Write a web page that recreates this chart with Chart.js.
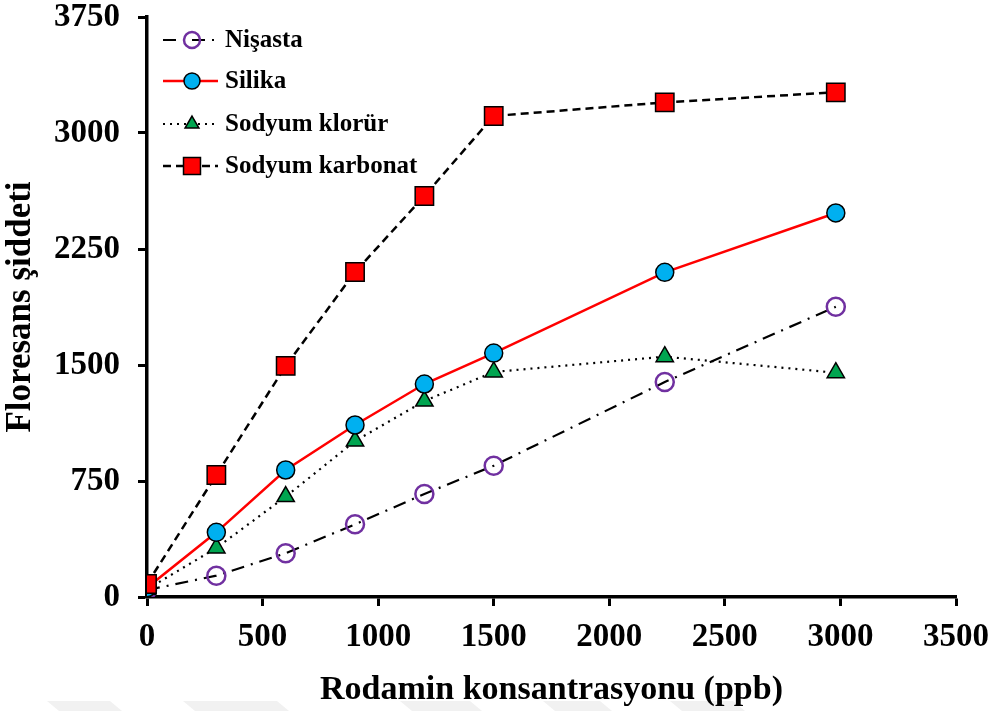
<!DOCTYPE html>
<html>
<head>
<meta charset="utf-8">
<script src="https://cdn.jsdelivr.net/npm/chart.js@4.4.1/dist/chart.umd.min.js"></script>
<style>
    html, body { margin: 0; padding: 0; background: #fff; }
    #wrap { width: 998px; height: 711px; position: relative; }
</style>
</head>
<body>
<div id="wrap"><canvas id="chart"></canvas></div>
<script>
// Rhodamine concentration (ppb) and fluorescence intensity per carrier
const concentrations = [0, 300, 600, 900, 1200, 1500, 2240, 2980];
const nisasta = [45, 138, 283, 470, 666, 849, 1390, 1877];
const silika = [60, 418, 821, 1112, 1377, 1577, 2099, 2483];
const sodyumKlorur = [50, 317, 649, 1008, 1267, 1455, 1554, 1450];
const sodyumKarbonat = [84, 789, 1494, 2101, 2593, 3110, 3198, 3263];

const yTicks = [0, 750, 1500, 2250, 3000, 3750];
const xTicks = [0, 500, 1000, 1500, 2000, 2500, 3000, 3500];

const FONT = '"Liberation Serif", "Times New Roman", serif';

function toPoints(values) {
    return values.map((v, i) => ({ x: concentrations[i], y: v }));
}

const datasets = [
    {
        label: 'Nişasta',
        data: toPoints(nisasta),
        borderColor: '#000',
        borderWidth: 2.2,
        borderDash: [13, 7, 2, 7],
        pointStyle: 'circle',
        pointRadius: 9,
        pointBackgroundColor: 'rgba(255,255,255,0)',
        pointBorderColor: '#7030a0',
        pointBorderWidth: 2.5,
        order: 3
    },
    {
        label: 'Silika',
        data: toPoints(silika),
        borderColor: '#ff0000',
        borderWidth: 2.5,
        pointStyle: 'circle',
        pointRadius: 9,
        pointBackgroundColor: '#00b0f0',
        pointBorderColor: '#000',
        pointBorderWidth: 1.5,
        order: 1
    },
    {
        label: 'Sodyum klorür',
        data: toPoints(sodyumKlorur),
        borderColor: '#000',
        borderWidth: 2.2,
        borderDash: [2, 5],
        pointStyle: 'triangle',
        pointRadius: 10,
        pointBackgroundColor: '#00a550',
        pointBorderColor: '#000',
        pointBorderWidth: 1.5,
        order: 2
    },
    {
        label: 'Sodyum karbonat',
        data: toPoints(sodyumKarbonat),
        borderColor: '#000',
        borderWidth: 2.5,
        borderDash: [8, 5],
        pointStyle: 'rect',
        pointRadius: 13,
        pointBackgroundColor: '#ff0000',
        pointBorderColor: '#000',
        pointBorderWidth: 1.5,
        order: 0
    }
];

// faint shapes along the bottom edge
const backdrop = {
    id: 'backdrop',
    beforeDraw(chart) {
        const ctx = chart.ctx;
        ctx.save();
        ctx.fillStyle = '#f1f1f1';
        const spans = [[47, 110], [183, 277], [400, 470], [543, 600], [670, 733]];
        for (const [a, b] of spans) {
            ctx.beginPath();
            ctx.moveTo(a, 701);
            ctx.lineTo(b, 701);
            ctx.lineTo(b + 12, 711);
            ctx.lineTo(a + 12, 711);
            ctx.closePath();
            ctx.fill();
        }
        ctx.restore();
    }
};

// legend: line sample with marker, then label
const lineLegend = {
    id: 'lineLegend',
    afterDraw(chart) {
        const ctx = chart.ctx;
        const rows = [40, 81, 124, 166];
        ctx.save();
        chart.data.datasets.forEach((ds, i) => {
            const y = rows[i];
            ctx.save();
            ctx.strokeStyle = ds.borderColor;
            ctx.lineWidth = ds.borderWidth;
            ctx.setLineDash(ds.borderDash || []);
            ctx.beginPath();
            ctx.moveTo(163, y);
            ctx.lineTo(218, y);
            ctx.stroke();
            ctx.restore();
            ctx.save();
            ctx.fillStyle = ds.pointBackgroundColor;
            ctx.strokeStyle = ds.pointBorderColor;
            ctx.lineWidth = ds.pointBorderWidth;
            Chart.helpers.drawPoint(ctx, {
                pointStyle: ds.pointStyle,
                radius: ds.pointStyle === 'rect' ? 12 : 8,
                borderWidth: ds.pointBorderWidth,
                rotation: 0
            }, 192, y);
            ctx.restore();
            ctx.fillStyle = '#000';
            ctx.font = 'bold 25px ' + FONT;
            ctx.textBaseline = 'middle';
            ctx.fillText(ds.label, 225, y + 1);
        });
        ctx.restore();
    }
};

// keep tick labels from pushing the plot area in
function noLabelPadding(scale) {
    scale.paddingTop = 0;
    scale.paddingBottom = 0;
    scale.paddingLeft = 0;
    scale.paddingRight = 0;
}

new Chart(document.getElementById('chart'), {
    type: 'line',
    data: { datasets },
    options: {
        responsive: true,
        maintainAspectRatio: false,
        animation: false,
        layout: { padding: { left: 0, top: 17, right: 42, bottom: 0 } },
        plugins: {
            legend: { display: false },
            tooltip: { enabled: false }
        },
        scales: {
            x: {
                type: 'linear',
                min: 0,
                max: 3500,
                afterBuildTicks: (scale) => { scale.ticks = xTicks.map(v => ({ value: v })); },
                afterFit: (scale) => { scale.height = 114; noLabelPadding(scale); },
                border: { color: '#000', width: 3.5 },
                grid: { drawOnChartArea: false, color: '#000', tickLength: 9, tickWidth: 3 },
                ticks: {
                    color: '#000',
                    padding: 12,
                    font: { family: FONT, size: 33, weight: 'bold' },
                    maxRotation: 0,
                    callback: (v) => String(v)
                },
                title: {
                    display: true,
                    text: 'Rodamin konsantrasyonu (ppb)',
                    color: '#000',
                    font: { family: FONT, size: 34, weight: 'bold' },
                    padding: { top: 0, bottom: 0 }
                }
            },
            y: {
                type: 'linear',
                min: 0,
                max: 3750,
                afterBuildTicks: (scale) => { scale.ticks = yTicks.map(v => ({ value: v })); },
                afterFit: (scale) => { scale.width = 147; noLabelPadding(scale); },
                border: { color: '#000', width: 3.5 },
                grid: { drawOnChartArea: false, color: '#000', tickLength: 9, tickWidth: 3 },
                ticks: {
                    color: '#000',
                    padding: 18,
                    font: { family: FONT, size: 33, weight: 'bold' },
                    callback: (v) => String(v)
                },
                title: {
                    display: true,
                    text: 'Floresans şiddeti',
                    color: '#000',
                    font: { family: FONT, size: 35, weight: 'bold' },
                    padding: { top: 0, bottom: 0 }
                }
            }
        }
    },
    plugins: [backdrop, lineLegend]
});
</script>
</body>
</html>
